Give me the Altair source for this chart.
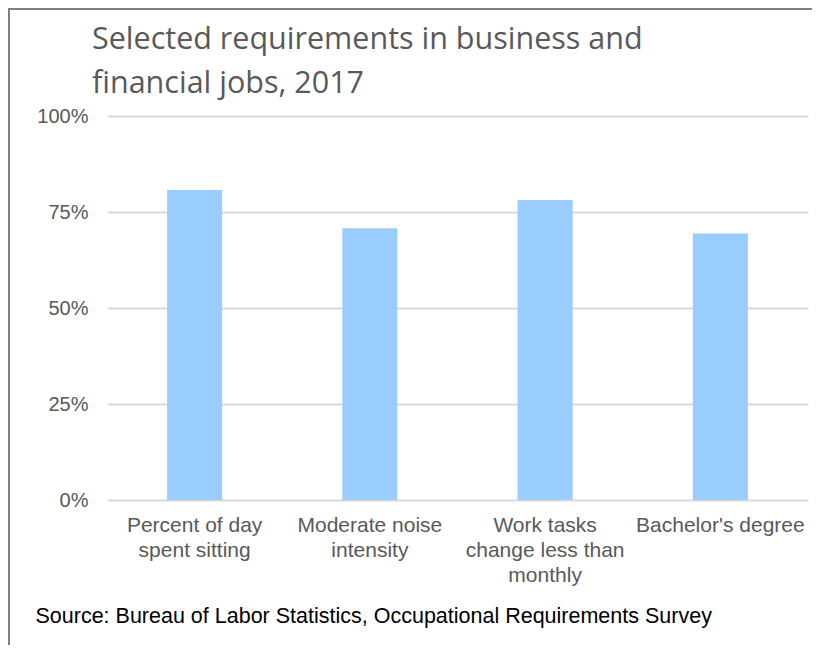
import altair as alt
import pandas as pd

title_lines = ["Selected requirements in business and", "financial jobs, 2017"]
source_text = "Source: Bureau of Labor Statistics, Occupational Requirements Survey"
categories = [
    "Percent of day|spent sitting",
    "Moderate noise|intensity",
    "Work tasks|change less than|monthly",
    "Bachelor's degree",
]
values = [0.807, 0.708, 0.781, 0.694]
y_ticks = [0, 0.25, 0.5, 0.75, 1.0]

df = pd.DataFrame({"category": categories, "value": values})
one = pd.DataFrame({"a": [0]})

W, H = 701, 384
PAD = {"left": 99, "top": 108, "right": 4, "bottom": 145}

bars = alt.Chart(df).mark_bar(color="#99CCFF").encode(
    x=alt.X(
        "category:N",
        sort=categories,
        scale=alt.Scale(paddingInner=0.686, paddingOuter=0.343),
        axis=alt.Axis(
            title=source_text,
            titleAnchor="start",
            titleX=-72,
            titleY=122,
            titleBaseline="alphabetic",
            titleAlign="left",
            titleFont="Liberation Sans",
            titleFontSize=21.5,
            titleFontWeight="normal",
            titleColor="#000000",
            labelExpr="split(datum.label, '|')",
            labelAngle=0,
            labelFont="Liberation Sans",
            labelFontSize=21,
            labelLineHeight=25,
            labelColor="#595959",
            labelPadding=14,
            labelLimit=200,
            ticks=False,
            domain=False,
        ),
    ),
    y=alt.Y(
        "value:Q",
        scale=alt.Scale(domain=[0, 1], nice=False),
        axis=alt.Axis(
            title=None,
            values=y_ticks,
            format=".0%",
            labelFont="Liberation Sans",
            labelFontSize=20,
            labelColor="#595959",
            labelPadding=19,
            ticks=False,
            domain=False,
            grid=True,
            gridColor="#d9d9d9",
            gridWidth=2,
        ),
    ),
)

title = alt.Chart(one).mark_text(
    align="left",
    baseline="alphabetic",
    font="Open Sans",
    fontSize=30.5,
    color="#595959",
    lineHeight=44,
).encode(
    x=alt.value(-15),
    y=alt.value(-67),
    text=alt.value(title_lines),
)

border = alt.Chart(one).mark_rect(
    fill="transparent", stroke="#808080", strokeWidth=2
).encode(
    x=alt.value(-98), x2=alt.value(2000), y=alt.value(-107), y2=alt.value(2000)
)

chart = alt.layer(bars, title, border).properties(
    width=W,
    height=H,
    padding=PAD,
    autosize=alt.AutoSizeParams(type="none"),
).configure_view(stroke=None)

chart.save("out.html", embed_options={"renderer": "svg", "actions": False})
